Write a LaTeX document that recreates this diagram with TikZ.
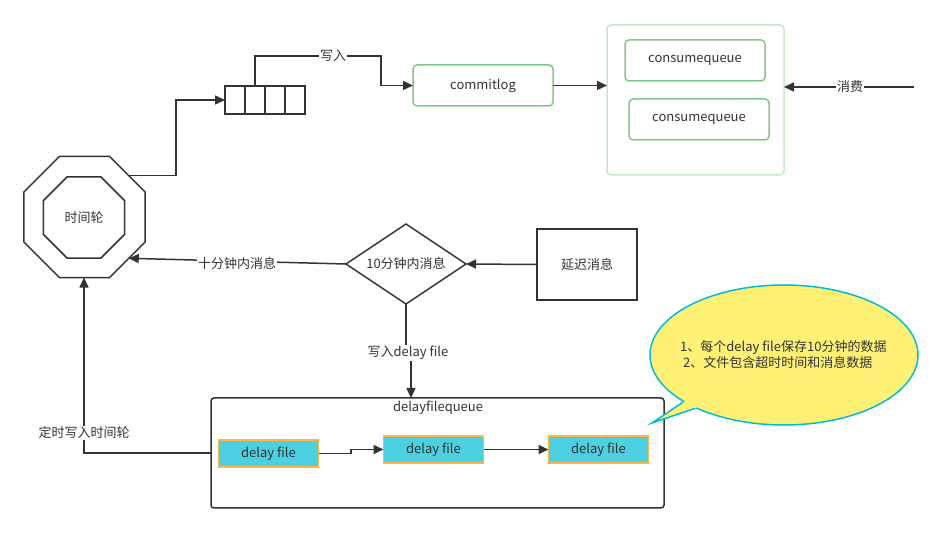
\documentclass[tikz,border=0pt]{standalone}
\usepackage{fontspec}
\setmainfont{Noto Sans CJK SC}
\usetikzlibrary{arrows.meta,shapes.geometric,calc}
\definecolor{ink}{HTML}{333333}
\definecolor{gbord}{HTML}{82C785}
\definecolor{gcont}{HTML}{C8E6C9}
\definecolor{dfill}{HTML}{4DD0E1}
\definecolor{dbord}{HTML}{FFB547}
\definecolor{yfill}{HTML}{FFF176}
\definecolor{ybord}{HTML}{00BCD4}
\begin{document}
\begin{tikzpicture}[x=1pt,y=-1pt,
  font=\fontsize{13}{15}\selectfont, text=ink,
  ln/.style={draw=ink,line width=1.5pt},
  arr/.style={ln,-{Triangle[length=10pt,width=9pt]}},
  lbl/.style={fill=white,inner sep=1pt,text=ink},
  octa/.style={regular polygon, regular polygon sides=8,
    draw=ink, line width=1.5pt, inner sep=0pt, outer sep=0pt, minimum size=#1},
  gbox/.style={draw=gbord, line width=1.5pt, rounded corners=4pt, minimum width=140pt,
    minimum height=41pt, outer sep=0pt},
  dfile/.style={draw=dbord, fill=dfill, line width=1.5pt, minimum width=100pt,
    minimum height=27pt, outer sep=0pt, inner sep=0pt}
]
\useasboundingbox (0,0) rectangle (943,534);

% time wheel
\node[octa=131pt] (oct) at (84.5,217) {};
\node[octa=88pt] (octin) at (84,217.5) {时间轮};

% queue
\node[ln, minimum width=80pt, minimum height=28pt, inner sep=0pt, outer sep=0pt] (q) at (265,100) {};
\foreach \dx in {-20,0,20}
  \draw[ln] ([xshift=\dx pt]q.north) -- ([xshift=\dx pt]q.south);

% commitlog and consume queues
\node[gbox] (commit) at (483,85.5) {commitlog};
\node[draw=gcont, line width=1.5pt, rounded corners=4pt, minimum width=177pt,
  minimum height=150pt, outer sep=0pt] (cont) at (695.5,100) {};
\node[gbox] (cq1) at (695,60.5) {consumequeue};
\node[gbox] (cq2) at (699,119.5) {consumequeue};

% diamond and delay message
\node[diamond, aspect=1.5, ln, minimum width=120pt, minimum height=80pt, inner sep=0pt,
  outer sep=0pt] (dia) at (406,264) {10分钟内消息};
\node[ln, minimum width=100pt, minimum height=71pt, outer sep=0pt] (delay) at (587,264.5) {延迟消息};

% delay file queue
\node[ln, rounded corners=3pt, minimum width=453pt, minimum height=110pt, outer sep=0pt] (dfq) at (437.5,453) {};
\node (dfqt) at (438,408) {delayfilequeue};
\node[dfile] (df1) at (268.5,453.5) {delay file};
\node[dfile] (df2) at (433.5,449.5) {delay file};
\node[dfile] (df3) at (598.5,449.5) {delay file};

% callout
\node[ellipse, draw=ybord, fill=yfill, line width=1.5pt, minimum width=268pt,
  minimum height=140pt, inner sep=0pt] (call) at (784,355) {};
\coordinate (tip) at (652,423);
\fill[yfill] (call.205) -- (tip) -- (call.211) -- (call.center) -- cycle;
\draw[draw=ybord, line width=1.5pt, line join=miter] (call.205) -- (tip) -- (call.211);
\node[anchor=west, inner sep=0pt] (t1) at (680,348) {1、每个delay file保存10分钟的数据};
\node[anchor=west, inner sep=0pt] (t2) at (683,363) {2、文件包含超时时间和消息数据};

% connectors
\coordinate (j3) at (176,0);
\draw[arr] (oct.43) -- (oct.43 -| j3) |- (q.west);

\coordinate (w1) at (381,56);
\draw[arr] ([xshift=-10pt]q.north) |- (w1) |- (commit.west);
\node[lbl] (lw) at (333,56) {写入};

\draw[arr] (commit.east) -- (cont.west |- commit.east);

\coordinate (cs) at (914,87);
\draw[arr] (cs) -- (cont.east |- cs);
\node[lbl] (lcs) at (850,87) {消费};

\draw[arr] (delay.west) -- (dia.east);

\draw[arr] (dia.west) -- (oct.-43);
\node[lbl] (l10) at (237,264) {十分钟内消息};

\coordinate (x411) at (411,0);
\node[lbl] (lwd) at (408,353) {写入delay file};
\draw[ln] (dia.south) -- (dia.south |- lwd.north);
\draw[arr] (lwd.south -| x411) -- (dfq.north -| x411);

\coordinate (j1) at (351,453.5);
\draw[arr] (df1.east) -- (j1) |- (df2.west);
\draw[arr] (df2.east) -- (df3.west);

\coordinate (j2) at (84,453);
\draw[arr] (dfq.west) -- (dfq.west -| j2) -- (j2 |- oct.south);
\node[lbl] (ldt) at (84,433) {定时写入时间轮};
\end{tikzpicture}
\end{document}
